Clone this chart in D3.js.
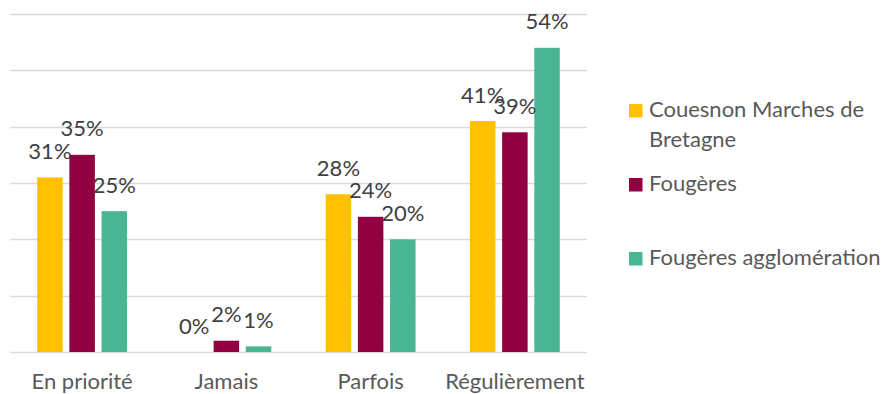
<!DOCTYPE html>
<html>
<head>
<meta charset="utf-8">
<script src="https://cdn.jsdelivr.net/npm/d3@7"></script>
<style>
  html, body { margin: 0; padding: 0; background: #ffffff; }
  svg { display: block; font-family: Lato, "Open Sans", sans-serif; }
</style>
</head>
<body>
<svg id="chart" width="888" height="394"></svg>
<script>
// Answer categories along the x axis
const categories = ["En priorité", "Jamais", "Parfois", "Régulièrement"];
// Territories compared (one bar each per category)
const seriesNames = ["Couesnon Marches de Bretagne", "Fougères", "Fougères agglomération"];
const seriesColors = ["#FFC000", "#910040", "#4AB593"];
// Shares in percent, per territory, in category order
const couesnonValues = [31, 0, 28, 41];
const fougeresValues = [35, 2, 24, 39];
const aggloValues = [25, 1, 20, 54];
// Gridline values (percent)
const gridTicks = [0, 10, 20, 30, 40, 50, 60];

const seriesValues = [couesnonValues, fougeresValues, aggloValues];
const rows = categories.map((c, i) => ({
  category: c,
  bars: seriesNames.map((s, j) => ({ series: s, color: seriesColors[j], value: seriesValues[j][i] }))
}));

const svg = d3.select("#chart");
const plot = { left: 10, right: 587, top: 14, bottom: 352 };
const fontSize = 22;

const y = d3.scaleLinear().domain([0, 60]).range([plot.bottom, plot.top]);
const x0 = d3.scaleBand().domain(categories).range([plot.left, plot.right])
  .paddingInner(0.377).paddingOuter(0.1885);
const x1 = d3.scaleBand().domain(seriesNames).range([0, x0.bandwidth()])
  .paddingInner(0.208).paddingOuter(0);

// Horizontal gridlines
svg.append("g").selectAll("line").data(gridTicks).join("line")
  .attr("x1", plot.left).attr("x2", plot.right)
  .attr("y1", d => Math.round(y(d)) + 0.5).attr("y2", d => Math.round(y(d)) + 0.5)
  .attr("stroke", "#d9d9d9").attr("stroke-width", 1.3);

// Bars
const groups = svg.append("g").selectAll("g").data(rows).join("g")
  .attr("transform", d => `translate(${x0(d.category)},0)`);

groups.selectAll("rect").data(d => d.bars).join("rect")
  .attr("x", d => x1(d.series))
  .attr("width", x1.bandwidth())
  .attr("y", d => y(d.value))
  .attr("height", d => y(0) - y(d.value))
  .attr("fill", d => d.color);

// Value labels above each bar
groups.selectAll("text").data(d => d.bars).join("text")
  .attr("x", d => x1(d.series) + x1.bandwidth() / 2)
  .attr("y", d => y(d.value) - 18.5)
  .attr("text-anchor", "middle")
  .attr("font-size", fontSize)
  .attr("fill", "#404040")
  .text(d => d.value + "%");

// Category labels
svg.append("g").selectAll("text").data(categories).join("text")
  .attr("x", d => x0(d) + x0.bandwidth() / 2)
  .attr("y", 389)
  .attr("text-anchor", "middle")
  .attr("font-size", fontSize)
  .attr("fill", "#595959")
  .text(d => d);

// Legend
const legendItems = [
  { lines: ["Couesnon Marches de", "Bretagne"], y: 117 },
  { lines: ["Fougères"], y: 191 },
  { lines: ["Fougères agglomération"], y: 265 }
];
const legend = svg.append("g").selectAll("g").data(legendItems).join("g");
legend.append("rect")
  .attr("x", 629).attr("y", d => d.y - 13)
  .attr("width", 13.5).attr("height", 13.5)
  .attr("fill", (d, i) => seriesColors[i]);
legend.append("text")
  .attr("x", 649).attr("y", d => d.y)
  .attr("font-size", fontSize)
  .attr("fill", "#595959")
  .selectAll("tspan").data(d => d.lines).join("tspan")
  .attr("x", 649).attr("dy", (d, i) => i === 0 ? 0 : 29.7)
  .text(d => d);
</script>
</body>
</html>
